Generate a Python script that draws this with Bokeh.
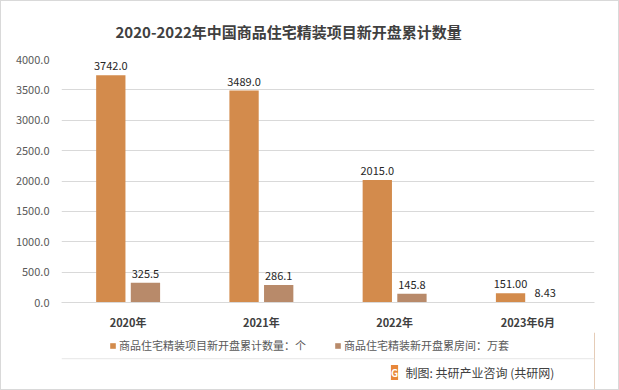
from bokeh.plotting import figure
from bokeh.layouts import column
from bokeh.models import (ColumnDataSource, FactorRange, Legend, LegendItem, NumeralTickFormatter,
                          LabelSet, Label, Span)
from bokeh.core.properties import value
from bokeh.transform import dodge
from bokeh.embed import file_html
from bokeh.resources import INLINE

categories = ["2020年", "2021年", "2022年", "2023年6月"]
projects = [3742.0, 3489.0, 2015.0, 151.0]
rooms = [325.5, 286.1, 145.8, 8.43]
project_labels = ["3742.0", "3489.0", "2015.0", "151.00"]
room_labels = ["325.5", "286.1", "145.8", "8.43"]
series_names = ["商品住宅精装项目新开盘累计数量：个", "商品住宅精装新开盘累房间：万套"]
title_text = "2020-2022年中国商品住宅精装项目新开盘累计数量"
source_text = "制图: 共研产业咨询 (共研网)"

FONT = "Noto Sans CJK SC"
C1 = "#D38B4C"
C2 = "#B88A6A"


def strip(height):
    s = figure(x_range=(0, 1), y_range=(0, 1), width=617, height=height,
               x_axis_location=None, y_axis_location=None,
               output_backend="svg", toolbar_location=None,
               min_border_left=0, min_border_right=0, min_border_top=0, min_border_bottom=0)
    s.grid.visible = False
    s.outline_line_color = None
    s.background_fill_color = "white"
    s.border_fill_color = "white"
    return s


# top strip: title
t = strip(45)
t.add_layout(Label(x=54, y=15, x_units="screen", y_units="screen", text=title_text,
                   text_align="left", text_baseline="middle", text_font=FONT,
                   text_font_size="15px", text_font_style="bold", text_color="#404040"))

src = ColumnDataSource(dict(cat=categories, projects=projects, rooms=rooms,
                            pl=project_labels, rl=room_labels))

p = figure(x_range=FactorRange(*categories), y_range=(0, 4000),
           frame_width=533, frame_height=243, output_backend="svg", toolbar_location=None,
           min_border_left=60, min_border_right=24, min_border_top=13, min_border_bottom=30)
p.outline_line_color = None
p.background_fill_color = "white"
p.border_fill_color = "white"

r1 = p.vbar(x=dodge("cat", -0.13, range=p.x_range), top="projects", width=0.22,
            source=src, fill_color=C1, line_color=None)
r2 = p.vbar(x=dodge("cat", 0.13, range=p.x_range), top="rooms", width=0.22,
            source=src, fill_color=C2, line_color=None)

l1 = LabelSet(x=dodge("cat", -0.13, range=p.x_range), y="projects", text="pl", source=src,
              text_align="center", text_baseline="bottom", y_offset=5,
              text_font=value(FONT), text_font_size=value("11px"), text_color="#262626")
l2 = LabelSet(x=dodge("cat", 0.13, range=p.x_range), y="rooms", text="rl", source=src,
              text_align="center", text_baseline="bottom", y_offset=5,
              text_font=value(FONT), text_font_size=value("11px"), text_color="#262626")
p.add_layout(l1)
p.add_layout(l2)

p.ygrid.grid_line_color = "#d9d9d9"
p.xgrid.grid_line_color = None
p.yaxis.ticker = [0, 500, 1000, 1500, 2000, 2500, 3000, 3500, 4000]
p.yaxis.formatter = NumeralTickFormatter(format="0.0")
p.yaxis.axis_line_color = None
p.yaxis.major_tick_line_color = None
p.yaxis.minor_tick_line_color = None
p.yaxis.major_label_text_font = FONT
p.yaxis.major_label_text_font_size = "11px"
p.yaxis.major_label_text_color = "#595959"
p.yaxis.major_label_standoff = 6

p.xaxis.axis_line_color = "#d9d9d9"
p.xaxis.major_tick_line_color = None
p.xaxis.minor_tick_line_color = None
p.xaxis.major_label_text_font = FONT
p.xaxis.major_label_text_font_size = "11px"
p.xaxis.major_label_text_font_style = "bold"
p.xaxis.major_label_text_color = "#404040"
p.xaxis.major_label_standoff = 5

# bottom strip: legend and source note
f = strip(57)
# legend-only swatches (kept outside the strip's visible range)
d1 = f.vbar(x=[5], top=[1], width=0.1, fill_color=C1, line_color=None)
d2 = f.vbar(x=[5], top=[1], width=0.1, fill_color=C2, line_color=None)
legend = Legend(items=[LegendItem(label=series_names[0], renderers=[d1]),
                       LegendItem(label=series_names[1], renderers=[d2])],
                orientation="horizontal", location=(48, 36),
                label_text_font=FONT, label_text_font_size="11px", label_text_color="#595959",
                glyph_width=7, glyph_height=7, spacing=28, label_standoff=3,
                label_height=14, border_line_color=None, background_fill_alpha=0,
                padding=0, margin=0)
f.add_layout(legend, "center")

f.add_layout(Span(location=0.54, dimension="width", line_color="#e6e6e6", line_width=1))

f.add_layout(Label(x=333, y=17, x_units="screen", y_units="screen", text="G",
                   text_align="center", text_baseline="middle", text_font=FONT,
                   text_font_size="10px", text_font_style="bold", text_color="white",
                   background_fill_color="#E8873A"))
f.add_layout(Label(x=344, y=17, x_units="screen", y_units="screen", text=source_text,
                   text_align="left", text_baseline="middle", text_font=FONT,
                   text_font_size="12px", text_color="#404040"))

layout = column(t, p, f, spacing=0, styles={"border": "1px solid #d9d9d9"})
open("out.html", "w").write(file_html(layout, INLINE))
